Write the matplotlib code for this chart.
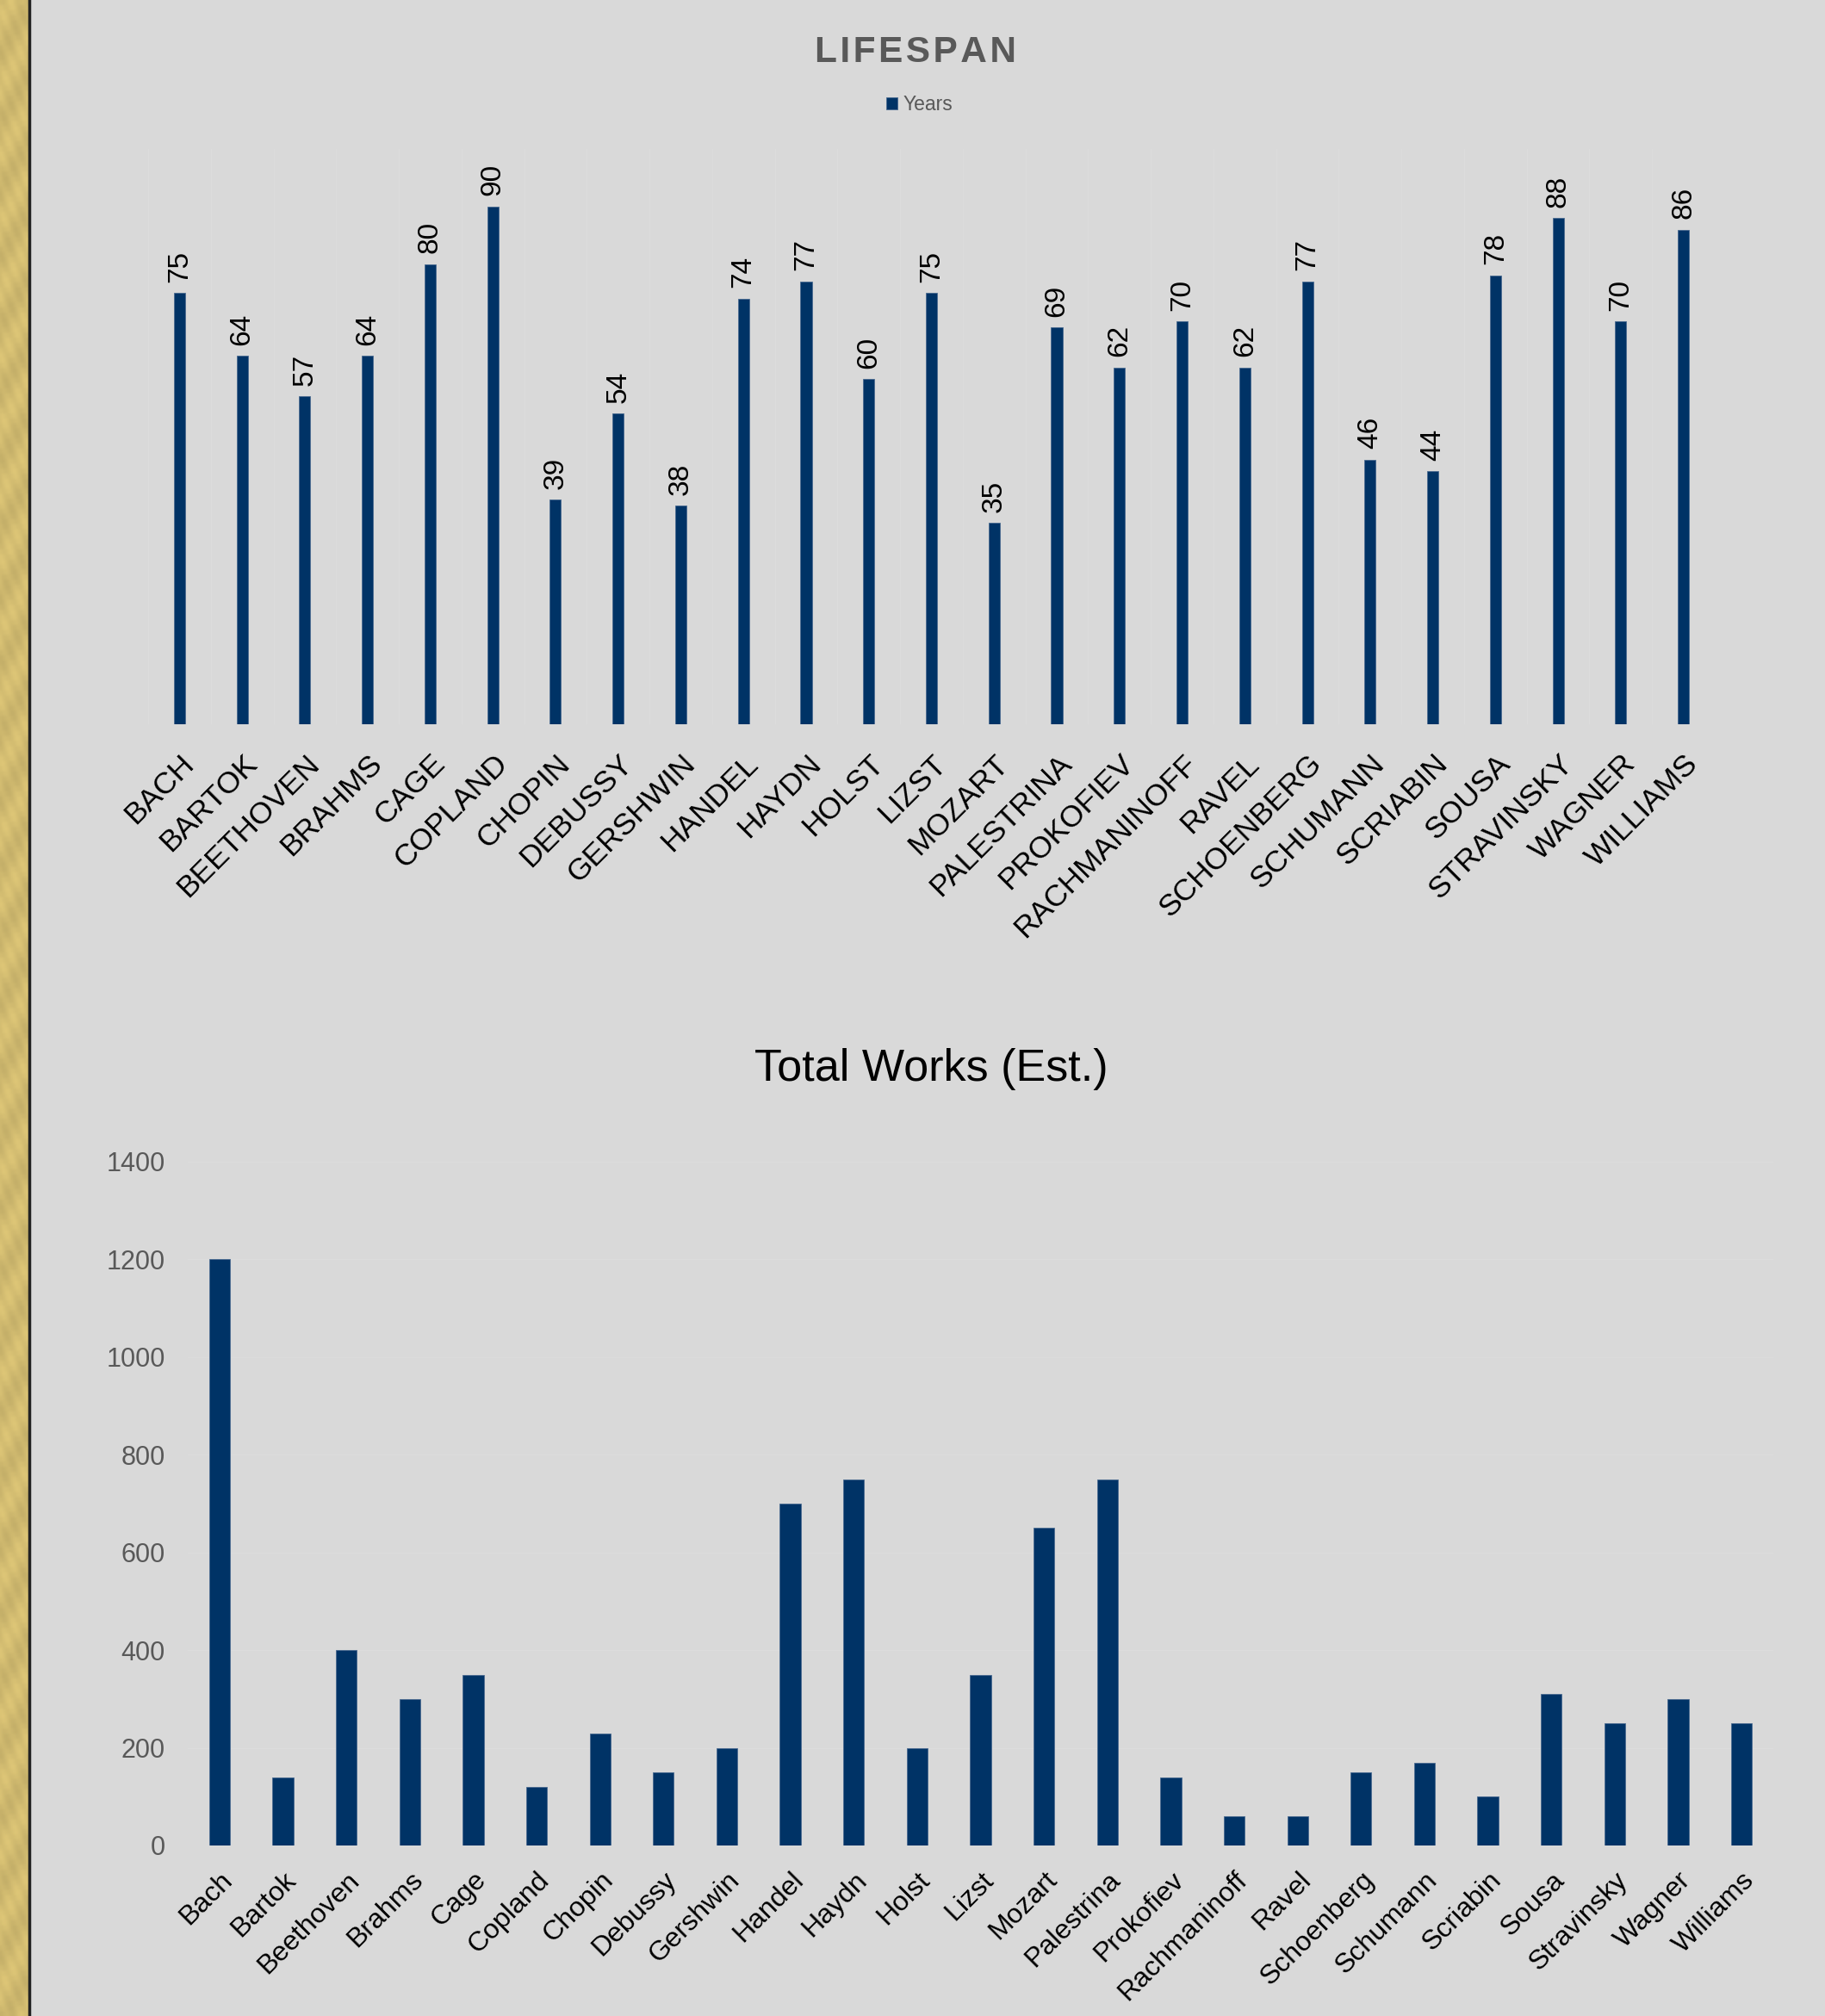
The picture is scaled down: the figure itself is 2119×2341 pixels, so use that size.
import numpy as np
import matplotlib.pyplot as plt

plt.rcParams['font.family'] = ['Liberation Sans', 'DejaVu Sans']

# data
composers = ['Bach', 'Bartok', 'Beethoven', 'Brahms', 'Cage', 'Copland', 'Chopin',
             'Debussy', 'Gershwin', 'Handel', 'Haydn', 'Holst', 'Lizst', 'Mozart',
             'Palestrina', 'Prokofiev', 'Rachmaninoff', 'Ravel', 'Schoenberg',
             'Schumann', 'Scriabin', 'Sousa', 'Stravinsky', 'Wagner', 'Williams']
lifespan = [75, 64, 57, 64, 80, 90, 39, 54, 38, 74, 77, 60, 75, 35, 69, 62, 70,
            62, 77, 46, 44, 78, 88, 70, 86]
works = [1200, 140, 400, 300, 350, 120, 230, 150, 200, 700, 750, 200, 350, 650,
         750, 140, 60, 60, 150, 170, 100, 310, 250, 300, 250]
work_ticks = [0, 200, 400, 600, 800, 1000, 1200, 1400]

navy = '#003366'
bg = '#d9d9d9'
grey_txt = '#595959'

W, H = 2119, 2341
fig = plt.figure(figsize=(W / 100, H / 100), dpi=100, facecolor=bg)

# gold strip on the left
strip = fig.add_axes([0, 0, 33 / W, 1])
yy = np.linspace(0, 60, 400)[:, None]
xx = np.linspace(0, 6, 20)[None, :]
tex = 0.5 + 0.25 * np.sin(yy * 3.1 + xx * 0.7) + 0.15 * np.sin(yy * 7.3 - xx * 2.1)
base = np.array([0.84, 0.75, 0.45])
img = base[None, None, :] * (0.9 + 0.15 * tex[:, :, None])
strip.imshow(np.clip(img, 0, 1), aspect='auto', extent=[0, 1, 0, 1])
strip.axis('off')
fig.add_artist(plt.Line2D([33.5 / W, 33.5 / W], [0, 1], color='#222222', lw=2.5))

x = np.arange(len(composers))

# ---- top chart: lifespan
ax1 = fig.add_axes([172 / W, 1 - 841 / H, (1991 - 172) / W, (841 - 173) / H])
ax1.set_facecolor(bg)
bars = ax1.bar(x, lifespan, width=0.18, color=navy, edgecolor='#4a6a90',
               linewidth=0.6, label='Years', zorder=3)
ax1.bar_label(bars, padding=9, rotation=90, fontsize=24, color='black')
ax1.set_xlim(-0.5, len(composers) - 0.5)
ax1.set_ylim(0, 100)
ax1.set_yticks([])
ax1.set_xticks(x)
ax1.set_xticklabels([c.upper() for c in composers], rotation=45, ha='right',
                    rotation_mode='anchor', fontsize=25.5, color='black')
ax1.tick_params(axis='x', length=0, pad=21)
ax1.set_xticks(np.arange(-0.5, len(composers)), minor=True)
ax1.tick_params(axis='x', which='minor', length=0)
ax1.grid(which='minor', axis='x', color='#dcdcdc', lw=1, zorder=0)
for s in ax1.spines.values():
    s.set_visible(False)

fig.text(1063 / W, 1 - 72 / H, '\u200a'.join('LIFESPAN'), ha='center', va='baseline',
         fontsize=30.5, fontweight='bold', color=grey_txt)
leg = fig.legend(handles=[bars], labels=['Years'], loc='center',
                 bbox_to_anchor=(1068 / W, 1 - 122 / H), frameon=False,
                 fontsize=16.5, handlelength=0.55, handleheight=0.55,
                 handletextpad=0.3, labelcolor=grey_txt)

# ---- bottom chart: total works
ax2 = fig.add_axes([218 / W, 1 - 2143 / H, (2059 - 218) / W, (2143 - 1349) / H])
ax2.set_facecolor(bg)
ax2.bar(x, works, width=0.33, color=navy, edgecolor='#4a6a90', linewidth=0.6, zorder=3)
ax2.set_xlim(-0.5, len(composers) - 0.5)
ax2.set_ylim(0, 1400)
ax2.set_yticks(work_ticks)
ax2.set_yticklabels([str(t) for t in work_ticks], fontsize=22, color=grey_txt)
ax2.set_xticks(x)
ax2.set_xticklabels(composers, rotation=45, ha='right', rotation_mode='anchor',
                    fontsize=23, color='black')
ax2.tick_params(axis='x', length=0, pad=18)
ax2.tick_params(axis='y', length=0, pad=19)
ax2.grid(axis='y', color='#dcdcdc', lw=1, zorder=0)
for s in ax2.spines.values():
    s.set_visible(False)

fig.text(1081 / W, 1 - 1255 / H, 'Total Works (Est.)', ha='center', va='baseline',
         fontsize=37.5, color='black')

fig.savefig('out.png', dpi=100, facecolor=bg)
